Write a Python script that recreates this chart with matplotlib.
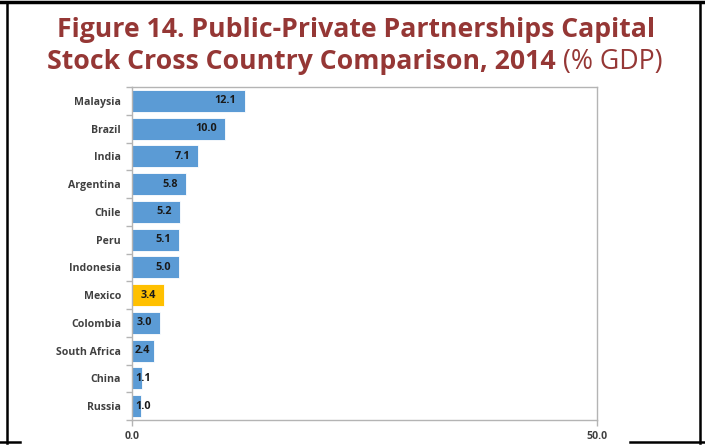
import matplotlib
matplotlib.use("Agg")
import matplotlib.pyplot as plt
from matplotlib.lines import Line2D

countries = ["Malaysia", "Brazil", "India", "Argentina", "Chile", "Peru",
             "Indonesia", "Mexico", "Colombia", "South Africa", "China", "Russia"]
values = [12.1, 10.0, 7.1, 5.8, 5.2, 5.1, 5.0, 3.4, 3.0, 2.4, 1.1, 1.0]
highlight = "Mexico"
x_ticks = [0.0, 50.0]
x_tick_labels = ["0.0", "50.0"]

BLUE = "#5B9BD5"
GOLD = "#FFC000"
TITLE_RED = "#953735"
LABEL_GRAY = "#404040"
AXIS_GRAY = "#b4b4b4"

W, H = 705, 445
fig = plt.figure(figsize=(W / 100, H / 100), dpi=100)
fig.patch.set_facecolor("white")

ax = fig.add_axes([132 / W, 1 - 420 / H, (597 - 132) / W, (420 - 87) / H])

ypos = list(range(len(countries)))[::-1]
colors = [GOLD if c == highlight else BLUE for c in countries]
bars = ax.barh(ypos, values, height=0.8, color=colors, edgecolor="white",
               linewidth=0.6, zorder=2)

ax.set_xlim(0, 50)
ax.set_ylim(-0.5, len(countries) - 0.5)
ax.set_yticks(ypos)
ax.set_yticklabels(countries, fontsize=7.6, fontweight="bold", color=LABEL_GRAY,
                   family="Open Sans")
ax.set_yticks([y + 0.5 for y in range(-1, len(countries))], minor=True)
ax.tick_params(axis="y", which="major", length=0, pad=8)
ax.tick_params(axis="y", which="minor", length=4, color=AXIS_GRAY, width=1)
ax.set_xticks(x_ticks)
ax.set_xticklabels(x_tick_labels, fontsize=7.6, fontweight="bold",
                   color=LABEL_GRAY, family="Open Sans")
ax.tick_params(axis="x", length=4, color=AXIS_GRAY, width=1, pad=4)
for s in ax.spines.values():
    s.set_color(AXIS_GRAY)
    s.set_linewidth(1.0)

# data labels: inside end, clamped to bar start
fig.canvas.draw()
renderer = fig.canvas.get_renderer()
px_per_unit = ax.transData.transform((1, 0))[0] - ax.transData.transform((0, 0))[0]
for y, v in zip(ypos, values):
    t = ax.text(0, y, f"{v:.1f}", ha="left", va="center", fontsize=7.8,
                fontweight="bold", color="#1a1a1a", family="Open Sans", zorder=3)
    wpx = t.get_window_extent(renderer).width
    right_px = v * px_per_unit - 8
    left_px = max(right_px - wpx, 3)
    t.set_x(left_px / px_per_unit)

# title
fs = 19.2
fig.text(356 / W, 1 - 30 / H, "Figure 14. Public-Private Partnerships Capital",
         ha="center", va="center", fontsize=fs, fontweight="bold",
         color=TITLE_RED, family="Open Sans")
t1 = fig.text(0, 1 - 62 / H, "Stock Cross Country Comparison, 2014",
              ha="left", va="center", fontsize=fs, fontweight="bold",
              color=TITLE_RED, family="Open Sans")
t2 = fig.text(0, 1 - 62 / H, " (% GDP)", ha="left", va="center", fontsize=fs,
              fontweight="normal", color=TITLE_RED, family="Open Sans")
w1 = t1.get_window_extent(renderer).width
w2 = t2.get_window_extent(renderer).width
start = 355 - (w1 + w2) / 2
t1.set_x(start / W)
t2.set_x((start + w1) / W)

# outer frame
def fl(x0, y0, x1, y1, lw):
    fig.add_artist(Line2D([x0 / W, x1 / W], [1 - y0 / H, 1 - y1 / H],
                          color="black", linewidth=lw, transform=fig.transFigure))

fl(0, 2, W, 2, 2.5)
fl(7, 2, 7, 443, 1.8)
fl(700, 2, 700, 443, 1.8)
fl(0, 442, 20, 442, 1.8)
fl(630, 442, W, 442, 1.8)

fig.savefig("out.png", dpi=100)
